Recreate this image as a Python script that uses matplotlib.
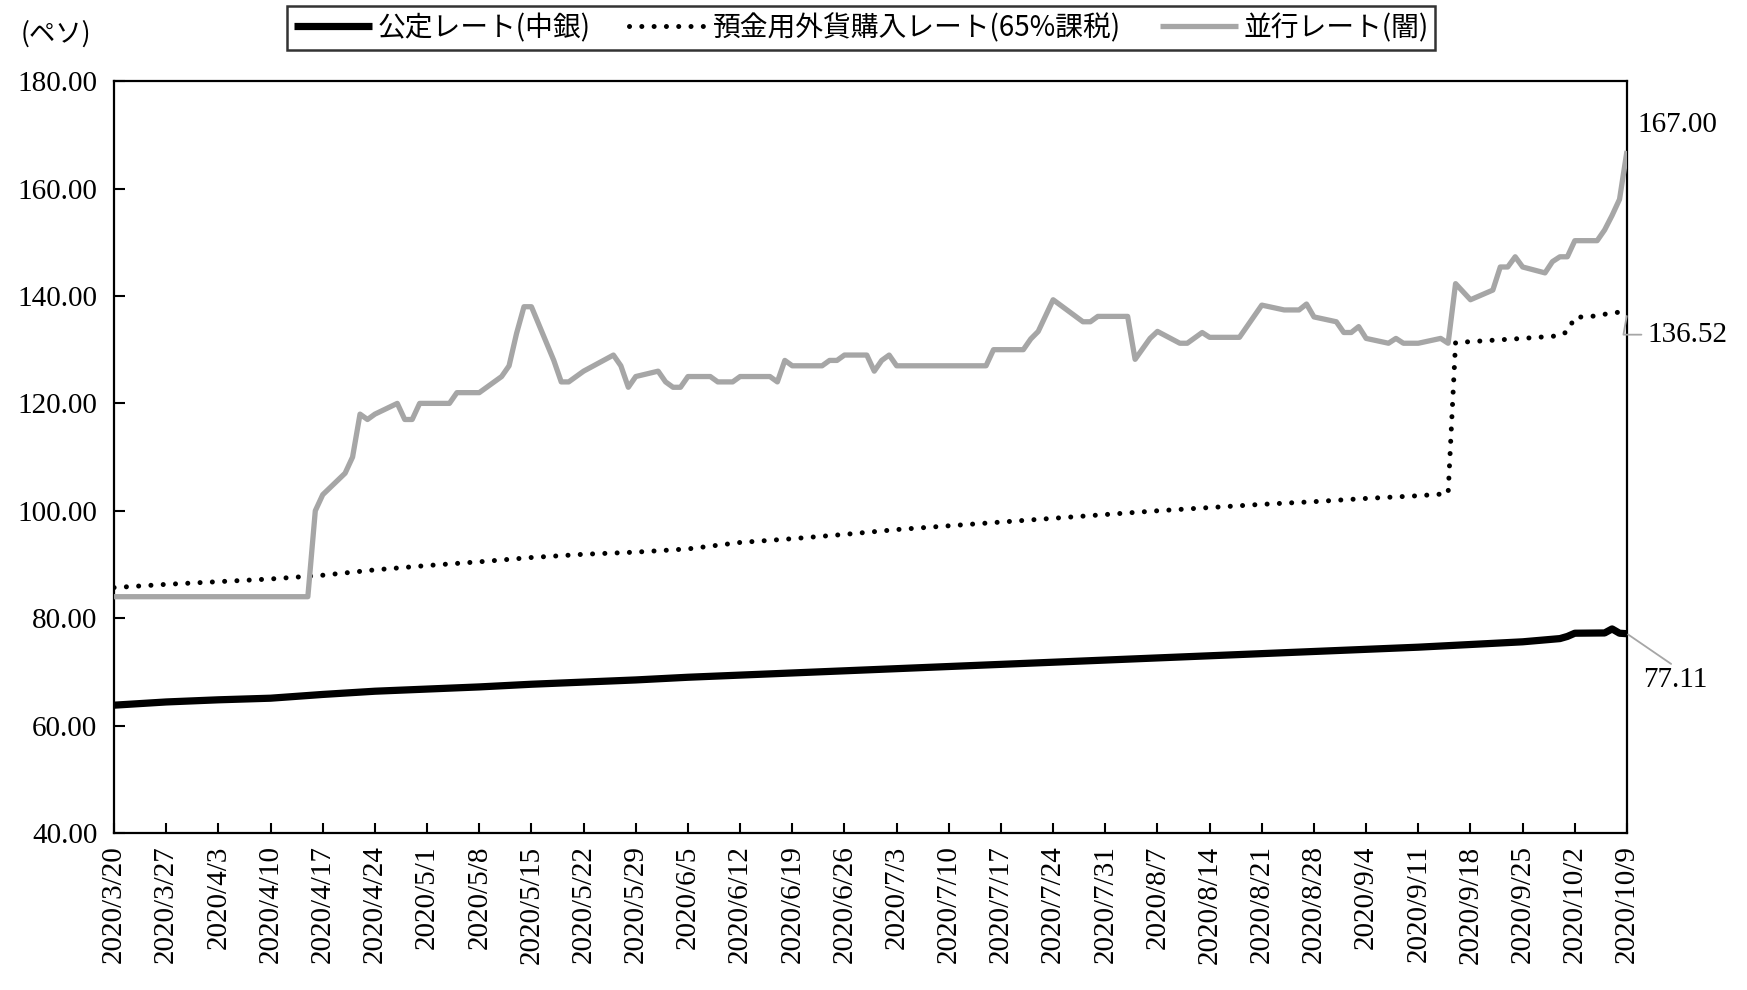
import matplotlib
matplotlib.use("Agg")
import matplotlib.pyplot as plt
import pandas as pd

# ---------------- data ----------------
official_dates = ["2020-03-20", "2020-03-27", "2020-04-03", "2020-04-10", "2020-04-17", "2020-04-24",
                  "2020-05-01", "2020-05-08", "2020-05-15", "2020-05-22", "2020-05-29", "2020-06-05",
                  "2020-06-12", "2020-06-19", "2020-06-26", "2020-07-03", "2020-07-10", "2020-07-17",
                  "2020-07-24", "2020-07-31", "2020-08-07", "2020-08-14", "2020-08-21", "2020-08-28",
                  "2020-09-04", "2020-09-11", "2020-09-18", "2020-09-25", "2020-09-30", "2020-10-01",
                  "2020-10-02", "2020-10-06", "2020-10-07", "2020-10-08", "2020-10-09"]
official_vals = [63.8, 64.4, 64.8, 65.1, 65.8, 66.4,
                 66.8, 67.2, 67.7, 68.1, 68.5, 69.0,
                 69.4, 69.8, 70.2, 70.6, 71.0, 71.4,
                 71.8, 72.2, 72.6, 73.0, 73.4, 73.8,
                 74.2, 74.6, 75.1, 75.6, 76.2, 76.6,
                 77.2, 77.25, 78.0, 77.2, 77.11]

deposit_dates = ["2020-03-20", "2020-03-27", "2020-04-03", "2020-04-10", "2020-04-17", "2020-04-24",
                 "2020-05-01", "2020-05-08", "2020-05-15", "2020-05-22", "2020-05-29", "2020-06-05",
                 "2020-06-12", "2020-06-19", "2020-06-26", "2020-07-03", "2020-07-10", "2020-07-17",
                 "2020-07-24", "2020-07-31", "2020-08-07", "2020-08-14", "2020-08-21", "2020-08-28",
                 "2020-09-04", "2020-09-11", "2020-09-15", "2020-09-16", "2020-09-18", "2020-09-25",
                 "2020-09-30", "2020-10-01", "2020-10-02", "2020-10-05", "2020-10-06", "2020-10-07",
                 "2020-10-08", "2020-10-09"]
deposit_vals = [85.7, 86.3, 86.8, 87.3, 88.0, 89.0,
                89.8, 90.5, 91.3, 91.9, 92.3, 92.9,
                94.1, 94.8, 95.6, 96.5, 97.2, 97.9,
                98.6, 99.3, 100.0, 100.6, 101.2, 101.7,
                102.3, 102.8, 103.2, 131.3, 131.5, 132.1,
                132.6, 133.4, 136.0, 136.3, 136.6, 136.8,
                137.0, 136.52]

parallel_dates = ["2020-03-20", "2020-03-27", "2020-04-03", "2020-04-08", "2020-04-15", "2020-04-16",
                  "2020-04-17", "2020-04-20", "2020-04-21", "2020-04-22", "2020-04-23", "2020-04-24",
                  "2020-04-27", "2020-04-28", "2020-04-29", "2020-04-30", "2020-05-04", "2020-05-05",
                  "2020-05-06", "2020-05-07", "2020-05-08", "2020-05-11", "2020-05-12", "2020-05-13",
                  "2020-05-14", "2020-05-15", "2020-05-18", "2020-05-19", "2020-05-20", "2020-05-22",
                  "2020-05-26", "2020-05-27", "2020-05-28", "2020-05-29", "2020-06-01", "2020-06-02",
                  "2020-06-03", "2020-06-04", "2020-06-05", "2020-06-08", "2020-06-09", "2020-06-10",
                  "2020-06-11", "2020-06-12", "2020-06-16", "2020-06-17", "2020-06-18", "2020-06-19",
                  "2020-06-22", "2020-06-23", "2020-06-24", "2020-06-25", "2020-06-26", "2020-06-29",
                  "2020-06-30", "2020-07-01", "2020-07-02", "2020-07-03", "2020-07-10", "2020-07-15",
                  "2020-07-16", "2020-07-17", "2020-07-20", "2020-07-21", "2020-07-22", "2020-07-24",
                  "2020-07-28", "2020-07-29", "2020-07-30", "2020-07-31", "2020-08-03", "2020-08-04",
                  "2020-08-06", "2020-08-07", "2020-08-10", "2020-08-11", "2020-08-13", "2020-08-14",
                  "2020-08-18", "2020-08-21", "2020-08-24", "2020-08-25", "2020-08-26", "2020-08-27",
                  "2020-08-28", "2020-08-31", "2020-09-01", "2020-09-02", "2020-09-03", "2020-09-04",
                  "2020-09-07", "2020-09-08", "2020-09-09", "2020-09-10", "2020-09-11", "2020-09-14",
                  "2020-09-15", "2020-09-16", "2020-09-18", "2020-09-21", "2020-09-22", "2020-09-23",
                  "2020-09-24", "2020-09-25", "2020-09-28", "2020-09-29", "2020-09-30", "2020-10-01",
                  "2020-10-02", "2020-10-05", "2020-10-06", "2020-10-07", "2020-10-08", "2020-10-09"]
parallel_vals = [84, 84, 84, 84, 84, 100,
                 103, 107, 110, 118, 117, 118,
                 120, 117, 117, 120, 120, 122,
                 122, 122, 122, 125, 127, 133,
                 138, 138, 128, 124, 124, 126,
                 129, 127, 123, 125, 126, 124,
                 123, 123, 125, 125, 124, 124,
                 124, 125, 125, 124, 128, 127,
                 127, 127, 128, 128, 129, 129,
                 126, 128, 129, 127, 127, 127,
                 130, 130, 130, 132, 133.4, 139.3,
                 135.2, 135.2, 136.2, 136.2, 136.2, 128.2,
                 132.1, 133.4, 131.2, 131.2, 133.2, 132.3,
                 132.3, 138.3, 137.4, 137.4, 137.4, 138.5,
                 136.1, 135.2, 133.2, 133.2, 134.3, 132.1,
                 131.2, 132.1, 131.2, 131.2, 131.2, 132.1,
                 131.2, 142.3, 139.3, 141.1, 145.4, 145.4,
                 147.3, 145.4, 144.3, 146.4, 147.3, 147.3,
                 150.3, 150.3, 152.3, 155.0, 158.0, 167.0]

series_labels = ["公定レート(中銀)", "預金用外貨購入レート(65%課税)", "並行レート(闇)"]
unit_label = "(ペソ)"
end_labels = ["77.11", "136.52", "167.00"]
y_ticks = [40, 60, 80, 100, 120, 140, 160, 180]

# ---------------- style ----------------
GRAY = "#A6A6A6"
SERIF = ["Liberation Serif", "DejaVu Serif"]
JP = ["Noto Sans CJK JP", "DejaVu Sans"]

fig = plt.figure(figsize=(17.47, 9.9), dpi=100)
ax = fig.add_axes([0.0653, 0.1586, 0.9313 - 0.0653, 0.918 - 0.1586])

od = pd.to_datetime(official_dates)
dd = pd.to_datetime(deposit_dates)
pdt = pd.to_datetime(parallel_dates)

l1, = ax.plot(od, official_vals, color="black", lw=5.2, solid_joinstyle="round",
              solid_capstyle="butt", label=series_labels[0], zorder=3)
l2, = ax.plot(dd, deposit_vals, color="black", lw=3.6, linestyle=(0, (0.01, 2.45)),
              dash_capstyle="round", label=series_labels[1], zorder=3)
l3, = ax.plot(pdt, parallel_vals, color=GRAY, lw=3.8, solid_joinstyle="round",
              solid_capstyle="butt", label=series_labels[2], zorder=4)

start = pd.Timestamp("2020-03-20")
end = pd.Timestamp("2020-10-09")
ax.set_xlim(start, end)
ax.set_ylim(40, 180)

tick_dates = pd.date_range(start, end, freq="7D")
ax.set_xticks(tick_dates)
ax.set_xticklabels([f"{d.year}/{d.month}/{d.day}" for d in tick_dates],
                   rotation=90, fontsize=21, family=SERIF)
ax.set_yticks(y_ticks)
ax.set_yticklabels([f"{v:.2f}" for v in y_ticks], fontsize=21, family=SERIF)

ax.tick_params(axis="x", direction="in", length=7, width=1.5, pad=9)
ax.tick_params(axis="y", direction="in", length=8, width=1.5, pad=12)
for s in ax.spines.values():
    s.set_linewidth(1.6)
    s.set_color("black")

# end-of-series labels
ax.annotate(end_labels[2], xy=(pdt[-1], parallel_vals[-1]), xytext=(10, 26),
            textcoords="offset pixels", fontsize=21, family=SERIF,
            ha="left", va="center", annotation_clip=False)
ax.annotate(end_labels[1], xy=(dd[-1], deposit_vals[-1]), xytext=(20, -20),
            textcoords="offset pixels", fontsize=21, family=SERIF,
            ha="left", va="center", annotation_clip=False,
            arrowprops=dict(arrowstyle="-", color=GRAY, lw=1.3, shrinkA=2, shrinkB=1,
                            relpos=(0, 0.5),
                            connectionstyle="angle,angleA=0,angleB=80,rad=0"))
ax.annotate(end_labels[0], xy=(od[-1], official_vals[-1]), xytext=(16, -46),
            textcoords="offset pixels", fontsize=21, family=SERIF,
            ha="left", va="center", annotation_clip=False,
            arrowprops=dict(arrowstyle="-", color=GRAY, lw=1.3, shrinkA=0, shrinkB=1,
                            relpos=(0.5, 1.0)))

fig.text(0.012, 0.966, unit_label, fontsize=19, family=JP, ha="left", va="center")

leg = fig.legend(handles=[l1, l2, l3], loc="upper center", bbox_to_anchor=(0.493, 0.994),
                 ncol=3, frameon=True, fancybox=False, edgecolor="black",
                 prop={"family": JP, "size": 20}, handlelength=2.8, handletextpad=0.2,
                 columnspacing=1.4, borderpad=0.25, borderaxespad=0)
leg.get_frame().set_linewidth(1.8)

fig.savefig("out.png", dpi=100)
